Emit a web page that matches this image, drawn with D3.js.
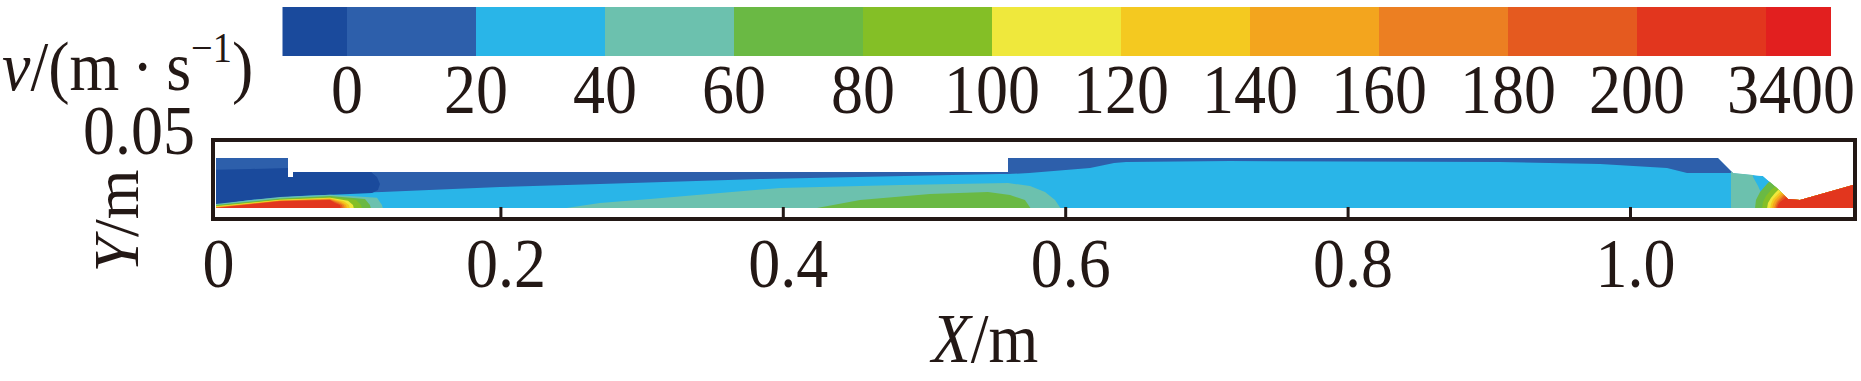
<!DOCTYPE html>
<html><head><meta charset="utf-8">
<script src="https://cdn.jsdelivr.net/npm/d3@7"></script>
<style>html,body{margin:0;padding:0;background:#fff}svg{display:block}</style>
</head><body>
<svg id="chart" width="1861" height="381"></svg>
<script>
// ---------- colour levels (legend) ----------
const levelColors = ["#1a4a9c","#2d5fab","#29b5e8","#6cc1ae","#6ab944","#84bf26","#efe83c",
                     "#f4c920","#f3a51e","#ec7f22","#e55a1f","#e2361e","#e21f1f"];
const levelLabels = ["0","20","40","60","80","100","120","140","160","180","200","3400"];
const xTicks = [0, 0.2, 0.4, 0.6, 0.8, 1.0];
const yTicks = [0.05];

// ---------- geometry of flow domain (X, Y in m) ----------
const wallProfile = [[-0.0014,0.0321],[0.0496,0.0321],[0.0496,0.0199],[0.0531,0.0199],[0.0531,0.0231],
  [0.5595,0.0231],[0.5595,0.0321],[1.0623,0.0321],[1.0729,0.0224],[1.0942,0.0205],[1.1041,0.0128],
  [1.1119,0.0058],[1.1204,0.0051],[1.1579,0.0147],[1.1579,0],[-0.0014,0]];

// ---------- velocity contour regions (X, Y in m) ----------
const slowInlet = [[-0.0127,0.0436],[0.5595,0.0436],[0.5595,0.0218],[0.5538,0.0218],[0.3839,0.0186],
  [0.2705,0.0154],[0.1997,0.0135],[0.1161,0.0103],[0.0935,0.0096],[0.0581,0.0083],[0.0227,0.0058],
  [-0.0014,0.0026],[-0.0127,0.0026]];
const slowWide = [[0.5595,0.0436],[1.0779,0.0436],[1.0779,0.0224],[1.0404,0.0224],[1.0262,0.0256],
  [0.9788,0.0282],[0.9079,0.0295],[0.7167,0.0301],[0.6431,0.0295],[0.6346,0.0288],[0.6176,0.0256],
  [0.5744,0.0224],[0.5595,0.0218]];
const recirculation = [[-0.0127,0.0244],[0.0227,0.0250],[0.0496,0.0256],[0.0581,0.0308],[0.1041,0.0308],
  [0.1091,0.0224],[0.1126,0.0199],[0.1147,0.0154],[0.1133,0.0115],[0.1091,0.0096],[0.0935,0.0090],
  [0.0581,0.0077],[0.0227,0.0051],[-0.0014,0.0019],[-0.0127,0.0019]];
const coreTeal = [[0.2422,-0.0006],[0.2705,0.0032],[0.3059,0.0058],[0.3980,0.0128],[0.4830,0.0147],
  [0.5595,0.0160],[0.5751,0.0141],[0.5857,0.0103],[0.5928,0.0051],[0.5970,-0.0006]];
const coreGreen = [[0.4207,-0.0006],[0.4547,0.0051],[0.5042,0.0090],[0.5453,0.0103],[0.5609,0.0083],
  [0.5715,0.0051],[0.5758,-0.0006]];
// inlet jet (nested, each = region above a velocity level)
const jetTeal   = [[-0.0127,-0.0006],[-0.0014,0.0026],[0.0439,0.0071],[0.0793,0.0085],[0.1126,0.0065],[0.1161,0.0019],[0.1169,-0.0006]];
const jetGreen  = [[-0.0127,-0.0006],[-0.0014,0.0019],[0.0439,0.0061],[0.0793,0.0077],[0.1041,0.0058],[0.1076,0.0019],[0.1084,-0.0006]];
const jetLime   = [[-0.0127,-0.0006],[-0.0014,0.0014],[0.0439,0.0056],[0.0793,0.0071],[0.0977,0.0051],[0.1013,0.0019],[0.1020,-0.0006]];
const jetYellow = [[-0.0127,-0.0006],[-0.0014,0.0011],[0.0439,0.0053],[0.0793,0.0066],[0.0921,0.0047],[0.0956,0.0019],[0.0963,-0.0006]];
const jetGold   = [[-0.0127,-0.0006],[-0.0014,0.0008],[0.0439,0.0050],[0.0793,0.0062],[0.0892,0.0043],[0.0928,0.0019],[0.0935,-0.0006]];
const jetOrange = [[-0.0127,-0.0006],[-0.0014,0.0006],[0.0439,0.0048],[0.0793,0.0059],[0.0871,0.0040],[0.0907,0.0019],[0.0914,-0.0006]];
const jetDOrange= [[-0.0127,-0.0006],[-0.0014,0.0004],[0.0439,0.0046],[0.0793,0.0056],[0.0857,0.0037],[0.0892,0.0019],[0.0899,-0.0006]];
const jetROrange= [[-0.0127,-0.0006],[-0.0014,0.0002],[0.0439,0.0045],[0.0793,0.0053],[0.0843,0.0034],[0.0878,0.0019],[0.0885,-0.0006]];
const jetRed    = [[-0.0127,-0.0006],[-0.0014,0.0000],[0.0439,0.0043],[0.0793,0.0051],[0.0829,0.0032],[0.0864,0.0019],[0.0871,-0.0006]];
// nozzle throat
const nozExt = [[1.1204,0.0436],[1.1700,0.0436],[1.1700,-0.0006]];
const nozTeal   = [[1.0715,0.0372],[1.0864,0.0372],[1.0871,0.0199],[1.0907,0.0141],[1.0935,0.0083],[1.0942,-0.0006],[1.0715,-0.0006]];
const nozGreen  = [[1.0885,-0.0006],[1.0892,0.0051],[1.0921,0.0103],[1.0970,0.0154],[1.1027,0.0205]];
const nozLime   = [[1.0935,-0.0006],[1.0942,0.0038],[1.0963,0.0077],[1.0998,0.0115],[1.1048,0.0154]];
const nozYellow = [[1.0970,-0.0006],[1.0977,0.0032],[1.0998,0.0064],[1.1027,0.0096],[1.1069,0.0135]];
const nozGold   = [[1.0992,-0.0006],[1.0998,0.0026],[1.1013,0.0058],[1.1041,0.0083],[1.1083,0.0122]];
const nozOrange = [[1.1006,-0.0006],[1.1013,0.0026],[1.1027,0.0051],[1.1055,0.0077],[1.1098,0.0115]];
const nozDOrange= [[1.1020,-0.0006],[1.1027,0.0019],[1.1041,0.0045],[1.1069,0.0071],[1.1112,0.0109]];
const nozROrange= [[1.1030,-0.0006],[1.1038,0.0019],[1.1048,0.0038],[1.1076,0.0064],[1.1119,0.0103]];
const nozRed    = [[1.1041,-0.0006],[1.1048,0.0019],[1.1062,0.0038],[1.1091,0.0058],[1.1133,0.0096]];

const regions = [
  {level:1, pts:slowInlet},{level:1, pts:slowWide},{level:0, pts:recirculation},
  {level:3, pts:coreTeal},{level:4, pts:coreGreen},
  {level:3, pts:jetTeal},{level:4, pts:jetGreen},{level:5, pts:jetLime},{level:6, pts:jetYellow},
  {level:7, pts:jetGold},{level:8, pts:jetOrange},{level:9, pts:jetDOrange},{level:10, pts:jetROrange},{level:11, pts:jetRed},
  {level:3, pts:nozTeal},
  {level:4, pts:nozGreen.concat(nozExt)},{level:5, pts:nozLime.concat(nozExt)},{level:6, pts:nozYellow.concat(nozExt)},
  {level:7, pts:nozGold.concat(nozExt)},{level:8, pts:nozOrange.concat(nozExt)},{level:9, pts:nozDOrange.concat(nozExt)},
  {level:10, pts:nozROrange.concat(nozExt)},{level:11, pts:nozRed.concat(nozExt)}
];

// ---------- drawing ----------
const ink = "#231815";
const serif = "'Liberation Serif','Times New Roman',serif";
const FS = 64, SY = 1.08;
const svg = d3.select("#chart");
const x = d3.scaleLinear().domain([0,1]).range([218,1630]);
const y = d3.scaleLinear().domain([0,0.05]).range([208,130]);
const poly = d3.line().x(d=>x(d[0])).y(d=>y(d[1])).curve(d3.curveLinearClosed);

svg.append("defs").append("clipPath").attr("id","dom")
   .append("path").attr("d", poly(wallProfile));

const field = svg.append("g").attr("clip-path","url(#dom)");
field.append("path").attr("d", poly(wallProfile)).attr("fill", levelColors[2]);
field.selectAll("path.r").data(regions).join("path").attr("class","r")
  .attr("d", d=>poly(d.pts)).attr("fill", d=>levelColors[d.level]);

// frame
const fL = 213, fR = 1855, fT = 140, fB = 219;
svg.append("rect").attr("x",fL).attr("y",fT).attr("width",fR-fL).attr("height",fB-fT)
   .attr("fill","none").attr("stroke",ink).attr("stroke-width",4);

// x axis (inward ticks)
const ax = svg.append("g").attr("transform",`translate(0,${fB})`)
  .call(d3.axisBottom(x).tickValues(xTicks).tickSizeInner(-12).tickSizeOuter(0)
        .tickFormat(d=> d===0 ? "0" : d3.format(".1f")(d)));
ax.select(".domain").remove();
ax.selectAll(".tick line").attr("stroke",ink).attr("stroke-width",3)
  .attr("display", d=> d===0 ? "none" : null);
ax.attr("font-family", null).attr("font-size", null);
ax.selectAll(".tick text").attr("y",null).attr("dy",null)
  .attr("transform", d=>`translate(${d===0?0:5},68) scale(1,${SY})`)
  .attr("fill",ink).attr("font-family",serif).attr("font-size",FS);

// y tick label
svg.selectAll("text.ytick").data(yTicks).join("text").attr("class","ytick")
  .attr("transform", d=>`translate(195,${y(d)+24}) scale(1,${SY})`)
  .attr("text-anchor","end").attr("font-family",serif).attr("font-size",FS).attr("fill",ink)
  .text(d=>d3.format(".2f")(d));

// axis titles
const xt = svg.append("text").attr("transform",`translate(985,362) scale(1,${SY})`)
  .attr("text-anchor","middle").attr("font-family",serif).attr("font-size",FS).attr("fill",ink);
xt.append("tspan").attr("font-style","italic").text("X");
xt.append("tspan").text("/m");
const yt = svg.append("text").attr("transform",`translate(138,221) rotate(-90)`)
  .attr("text-anchor","middle").attr("font-family",serif).attr("font-size",FS).attr("fill",ink);
yt.append("tspan").attr("font-style","italic").text("Y");
yt.append("tspan").text("/m");

// colour bar
const cb = d3.scaleLinear().domain([0, levelLabels.length-1]).range([347,1766]);
const nL = levelLabels.length - 1;
svg.append("g").selectAll("rect").data(levelColors).join("rect")
  .attr("x",(c,i)=>cb(Math.max(i-1,-0.5)))
  .attr("width",(c,i)=>cb(Math.min(i,nL+0.5))-cb(Math.max(i-1,-0.5))+0.5)
  .attr("y",7).attr("height",49).attr("fill",c=>c);
svg.append("g").selectAll("text").data(levelLabels).join("text")
  .attr("transform",(d,i)=>`translate(${cb(i) + (d.length>3 ? 25 : 0)},113) scale(1,${SY})`)
  .attr("text-anchor","middle").attr("font-family",serif).attr("font-size",FS).attr("fill",ink)
  .text(d=>d);

// colour bar title
const ct = svg.append("text").attr("transform",`translate(2,90) scale(1,${SY})`)
  .attr("font-family",serif).attr("font-size",FS).attr("fill",ink);
ct.append("tspan").attr("font-style","italic").text("v");
ct.append("tspan").text("/(m\u2009\u00b7\u2009s");
ct.append("tspan").attr("font-size",FS*0.6).attr("dy",-26).text("\u22121");
ct.append("tspan").attr("dy",26).text(")");
</script>
</body></html>
